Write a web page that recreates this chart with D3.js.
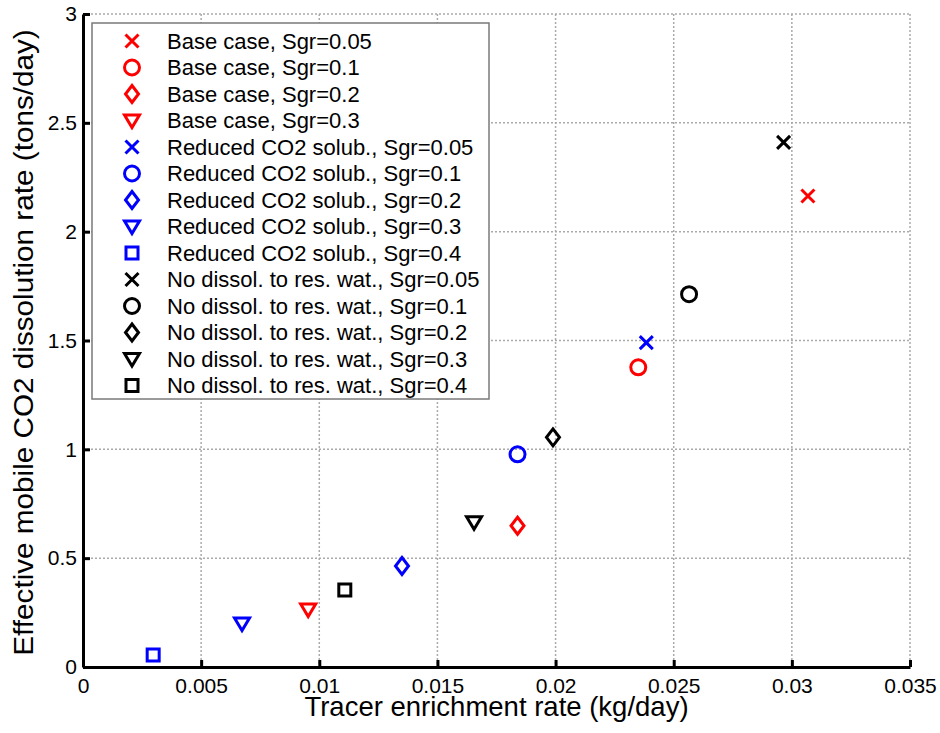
<!DOCTYPE html>
<html>
<head>
<meta charset="utf-8">
<script src="https://cdn.jsdelivr.net/npm/d3@7"></script>
<style>
  body { margin: 0; background: #fff; }
  svg { display: block; font-family: "Liberation Sans", Arial, sans-serif; }
  .tick text { font-size: 21px; fill: #000; }
  .axis-label { font-size: 27.5px; fill: #000; }
  .legend-text { font-size: 22px; fill: #000; }
</style>
</head>
<body>
<svg width="940" height="733"></svg>
<script>
const svg = d3.select('svg');
const width  = +svg.attr('width');
const height = +svg.attr('height');

// series, in legend order
const names = [
  'Base case, Sgr=0.05', 'Base case, Sgr=0.1', 'Base case, Sgr=0.2', 'Base case, Sgr=0.3',
  'Reduced CO2 solub., Sgr=0.05', 'Reduced CO2 solub., Sgr=0.1', 'Reduced CO2 solub., Sgr=0.2',
  'Reduced CO2 solub., Sgr=0.3', 'Reduced CO2 solub., Sgr=0.4',
  'No dissol. to res. wat., Sgr=0.05', 'No dissol. to res. wat., Sgr=0.1', 'No dissol. to res. wat., Sgr=0.2',
  'No dissol. to res. wat., Sgr=0.3', 'No dissol. to res. wat., Sgr=0.4'
];
const groups  = ['base', 'base', 'base', 'base', 'reduced', 'reduced', 'reduced', 'reduced', 'reduced',
                 'nodiss', 'nodiss', 'nodiss', 'nodiss', 'nodiss'];
const markers = ['x', 'o', 'd', 'v', 'x', 'o', 'd', 'v', 's', 'x', 'o', 'd', 'v', 's'];
const xValues = [0.03068, 0.02350, 0.01839, 0.00953, 0.02384, 0.01839, 0.01350, 0.00673, 0.00297,
                 0.02965, 0.02565, 0.01989, 0.01655, 0.01108];
const yValues = [2.164, 1.377, 0.649, 0.264, 1.490, 0.977, 0.464, 0.200, 0.055,
                 2.410, 1.713, 1.055, 0.665, 0.354];

const xTicks = [0, 0.005, 0.01, 0.015, 0.02, 0.025, 0.03, 0.035];
const yTicks = [0, 0.5, 1, 1.5, 2, 2.5, 3];

const groupColor = { base: '#ff0000', reduced: '#0000ff', nodiss: '#000000' };

const data = names.map((name, i) => ({
  name, group: groups[i], marker: markers[i], x: xValues[i], y: yValues[i]
}));

const margin = { top: 14, bottom: 66, left: 83, right: 30 };
const innerWidth = width - margin.left - margin.right;
const innerHeight = height - margin.top - margin.bottom;

const root = svg.append('g')
  .attr('transform', `translate(${margin.left}, ${margin.top})`);

const xScale = d3.scaleLinear().domain([0, 0.035]).range([0, innerWidth]);
const yScale = d3.scaleLinear().domain([0, 3]).range([innerHeight, 0]);

// dotted grid
const grid = root.append('g').attr('class', 'grid');
grid.selectAll('line.gx')
  .data(xTicks.slice(1))
  .enter().append('line')
    .attr('x1', d => xScale(d)).attr('x2', d => xScale(d))
    .attr('y1', 0).attr('y2', innerHeight);
grid.selectAll('line.gy')
  .data(yTicks.slice(1))
  .enter().append('line')
    .attr('y1', d => yScale(d)).attr('y2', d => yScale(d))
    .attr('x1', 0).attr('x2', innerWidth);
grid.selectAll('line')
  .attr('stroke', '#aaaaaa')
  .attr('stroke-width', 1.5)
  .attr('stroke-dasharray', '2,2');

// axes, ticks pointing inward
const xAxis = d3.axisBottom(xScale)
  .tickValues(xTicks)
  .tickFormat(d => String(+d.toFixed(3)))
  .tickSizeInner(-7)
  .tickSizeOuter(0)
  .tickPadding(11);
const yAxis = d3.axisLeft(yScale)
  .tickValues(yTicks)
  .tickFormat(d => String(d))
  .tickSizeInner(-7)
  .tickSizeOuter(0)
  .tickPadding(6);

const xAxisGroup = root.append('g')
  .attr('transform', `translate(0, ${innerHeight})`)
  .call(xAxis);
const yAxisGroup = root.append('g').call(yAxis);

[xAxisGroup, yAxisGroup].forEach(g => {
  g.select('.domain').attr('stroke', '#000').attr('stroke-width', 3);
  g.selectAll('.tick line').attr('stroke', '#000').attr('stroke-width', 3);
  g.attr('font-family', null).attr('font-size', null);
});

root.append('text')
  .attr('class', 'axis-label')
  .attr('x', innerWidth / 2)
  .attr('y', innerHeight + 49)
  .attr('text-anchor', 'middle')
  .text('Tracer enrichment rate (kg/day)');

root.append('text')
  .attr('class', 'axis-label')
  .attr('transform', `translate(${33 - margin.left}, ${innerHeight / 2 + 2}) rotate(-90) scale(1.08, 1)`)
  .attr('text-anchor', 'middle')
  .text('Effective mobile CO2 dissolution rate (tons/day)');

// marker shapes (matlab style)
const markerPath = m => {
  switch (m) {
    case 'x': return 'M-6.5,-6.5L6.5,6.5M-6.5,6.5L6.5,-6.5';
    case 'o': return d3.symbol(d3.symbolCircle, Math.PI * 7.5 * 7.5)();
    case 'd': return 'M0,-8.5L6.5,0L0,8.5L-6.5,0Z';
    case 'v': return 'M-7.5,-5.5L7.5,-5.5L0,7Z';
    case 's': return 'M-6,-6L6,-6L6,6L-6,6Z';
  }
};

const drawMarker = (sel) => sel
  .attr('d', d => markerPath(d.marker))
  .attr('fill', 'none')
  .attr('stroke', d => groupColor[d.group])
  .attr('stroke-width', 3)
  .attr('stroke-linejoin', 'miter');

root.selectAll('path.point')
  .data(data)
  .enter().append('path')
    .attr('class', 'point')
    .attr('transform', d => `translate(${xScale(d.x)}, ${yScale(d.y)})`)
    .call(drawMarker);

// legend
const legend = svg.append('g').attr('transform', 'translate(92, 23)');
legend.append('rect')
  .attr('width', 397)
  .attr('height', 376)
  .attr('fill', '#fff')
  .attr('stroke', '#7a7a7a')
  .attr('stroke-width', 1.5);

const row = legend.selectAll('g.row')
  .data(data)
  .enter().append('g')
    .attr('class', 'row')
    .attr('transform', (d, i) => `translate(0, ${18 + i * 26.5})`);
row.append('path').attr('transform', 'translate(40, 0)').call(drawMarker);
row.append('text')
  .attr('class', 'legend-text')
  .attr('x', 75)
  .attr('dy', '0.36em')
  .text(d => d.name);
</script>
</body>
</html>
